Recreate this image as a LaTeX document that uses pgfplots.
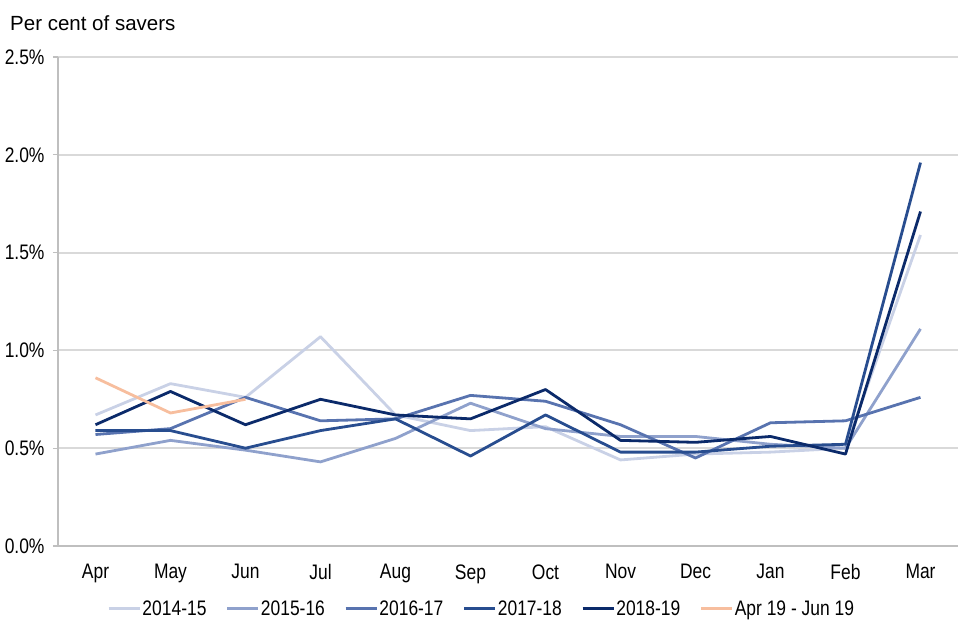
\documentclass[border=0pt]{standalone}
\usepackage{fontspec}
\setmainfont{Liberation Sans}[FakeStretch=0.83]
\newfontfamily\titlefont{Liberation Sans}
\usepackage{pgfplots}
\pgfplotsset{compat=1.18}
\definecolor{cA}{HTML}{C9D1E6}
\definecolor{cB}{HTML}{8FA1CC}
\definecolor{cC}{HTML}{5873AF}
\definecolor{cD}{HTML}{284D8F}
\definecolor{cE}{HTML}{0B2A6A}
\definecolor{cF}{HTML}{F7BE9E}
\definecolor{gridc}{HTML}{D9D9D9}
\definecolor{axc}{HTML}{BFBFBF}
\begin{document}
\begin{tikzpicture}
\begin{axis}[
  scale only axis,
  width=900bp, height=489bp,
  xmin=-0.5, xmax=11.5,
  ymin=0, ymax=2.5,
  axis x line*=bottom, axis y line*=left,
  axis line style={axc, line width=1.5bp, -},
  xtick={0,...,11},
  xticklabels={Apr,May,Jun,Jul,Aug,Sep,Oct,Nov,Dec,Jan,Feb,Mar},
  major x tick style={draw=none},
  extra x ticks={-0.5,0.5,...,11.5},
  extra x tick labels={},
  extra x tick style={grid=none, tick style={axc, line width=1.2bp}, major tick length=5bp},
  ytick={0,0.5,1,1.5,2,2.5},
  yticklabels={0.0\%,0.5\%,1.0\%,1.5\%,2.0\%,2.5\%},
  ymajorgrids,
  major grid style={gridc, line width=2bp},
  y tick style={axc, line width=1.2bp},
  major tick length=5bp,
  tick align=outside,
  tick label style={font=\fontsize{21bp}{24bp}\selectfont, black},
  xticklabel style={yshift=-10bp},
  yticklabel style={xshift=-5bp},
  legend columns=-1,
  legend style={draw=none, at={(0.47,-0.105)}, anchor=north,
    font=\fontsize{21bp}{24bp}\selectfont,
    /tikz/every even column/.append style={column sep=18bp},
    nodes={inner sep=1bp}},
  legend image code/.code={\draw[#1, line width=3.5bp] (0bp,0bp) -- (31bp,0bp);},
  every axis plot/.append style={line width=2.8bp, line join=round, mark=none},
  clip=false,
]
\addplot[cA] coordinates {(0,0.67)(1,0.83)(2,0.76)(3,1.07)(4,0.67)(5,0.59)(6,0.61)(7,0.44)(8,0.47)(9,0.48)(10,0.50)(11,1.59)};
\addlegendentry{2014-15}
\addplot[cB] coordinates {(0,0.47)(1,0.54)(2,0.49)(3,0.43)(4,0.55)(5,0.73)(6,0.60)(7,0.56)(8,0.56)(9,0.52)(10,0.50)(11,1.11)};
\addlegendentry{2015-16}
\addplot[cC] coordinates {(0,0.57)(1,0.60)(2,0.76)(3,0.64)(4,0.65)(5,0.77)(6,0.74)(7,0.62)(8,0.45)(9,0.63)(10,0.64)(11,0.76)};
\addlegendentry{2016-17}
\addplot[cD] coordinates {(0,0.59)(1,0.59)(2,0.50)(3,0.59)(4,0.65)(5,0.46)(6,0.67)(7,0.48)(8,0.48)(9,0.51)(10,0.52)(11,1.96)};
\addlegendentry{2017-18}
\addplot[cE] coordinates {(0,0.62)(1,0.79)(2,0.62)(3,0.75)(4,0.67)(5,0.65)(6,0.80)(7,0.54)(8,0.53)(9,0.56)(10,0.47)(11,1.71)};
\addlegendentry{2018-19}
\addplot[cF] coordinates {(0,0.86)(1,0.68)(2,0.75)};
\addlegendentry{Apr 19 - Jun 19}
\coordinate (bl) at (rel axis cs:0,0);
\coordinate (tr) at (rel axis cs:1,1);
\node[anchor=base west, font=\titlefont\fontsize{20.5bp}{24bp}\selectfont, inner sep=0pt] at ([shift={(-48bp,26bp)}]rel axis cs:0,1) {Per cent of savers};
\end{axis}
\pgfresetboundingbox
\path[use as bounding box] ([shift={(-58bp,-94bp)}]bl) rectangle ([shift={(2bp,57bp)}]tr);
\end{tikzpicture}
\end{document}
